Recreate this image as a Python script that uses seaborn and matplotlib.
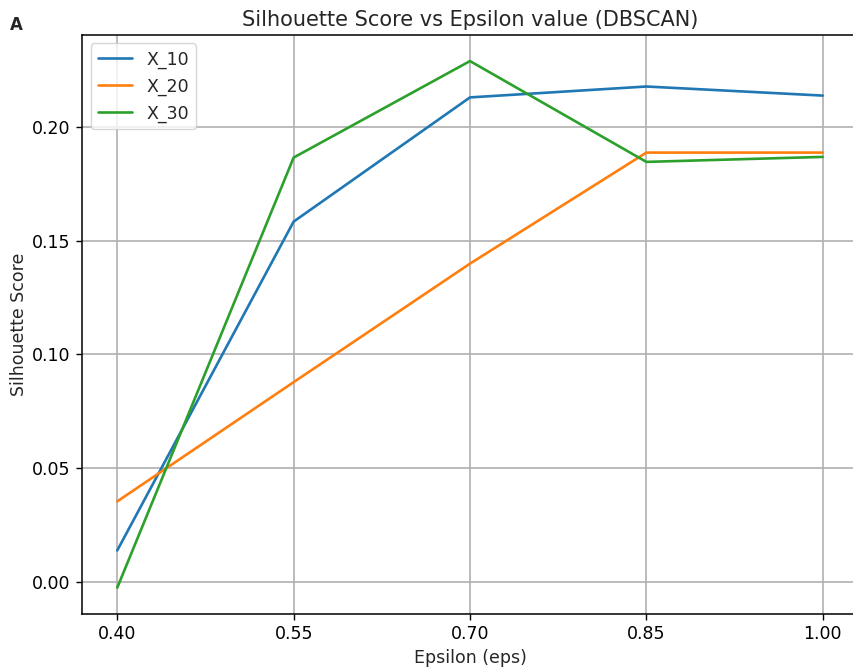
import matplotlib
matplotlib.use("Agg")
import matplotlib.pyplot as plt
import seaborn as sns
import pandas as pd

eps_values = [0.40, 0.55, 0.70, 0.85, 1.00]
x_10 = [0.0137, 0.1585, 0.2132, 0.2180, 0.2140]
x_20 = [0.0353, 0.0878, 0.1400, 0.1889, 0.1889]
x_30 = [-0.0027, 0.1867, 0.2292, 0.1848, 0.1870]
series_names = ["X_10", "X_20", "X_30"]
xtick_labels = ["0.40", "0.55", "0.70", "0.85", "1.00"]

df = pd.DataFrame({
    "eps": eps_values * 3,
    "score": x_10 + x_20 + x_30,
    "dataset": [n for n in series_names for _ in eps_values],
})

sns.set_style("ticks", {
    "axes.grid": True,
    "grid.color": "#b0b0b0",
    "axes.edgecolor": "black",
    "xtick.color": "black",
    "ytick.color": "black",
})
plt.rcParams["font.family"] = ["DejaVu Sans"]

fig = plt.figure(figsize=(8.54, 6.72), dpi=100)
ax = fig.add_axes([0.096, 0.0863, 0.9087, 0.862])

palette = ["#1f77b4", "#ff7f0e", "#2ca02c"]
sns.lineplot(data=df, x="eps", y="score", hue="dataset", palette=palette,
             linewidth=1.9, ax=ax)

ax.set_xticks(eps_values)
ax.set_xticklabels(xtick_labels)
ax.set_yticks([0.00, 0.05, 0.10, 0.15, 0.20])
ax.tick_params(labelsize=12.5, length=4.5, width=1.0)
ax.grid(True, color="#b0b0b0", linewidth=1.2)
for side in ax.spines.values():
    side.set_linewidth(1.1)
ax.set_xlabel("Epsilon (eps)", fontsize=12.5, labelpad=4)
ax.set_ylabel("Silhouette Score", fontsize=12.5, labelpad=3)
ax.set_title("Silhouette Score vs Epsilon value (DBSCAN)", fontsize=15, pad=6)
ax.legend(title=None, loc="upper left", fontsize=12.5)

fig.text(0.012, 0.955, "A", fontsize=12, fontweight="bold")

fig.savefig("out.png", dpi=100)
